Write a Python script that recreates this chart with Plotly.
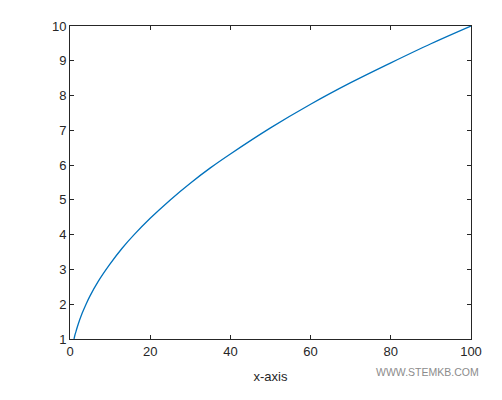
import plotly.graph_objects as go

# values
x_vals = [1, 1.2, 1.5, 2, 3, 4, 5, 7, 10, 13, 16, 20, 25, 30, 35, 40, 50, 60, 70, 80, 90, 100]
y_vals = [1.0, 1.1, 1.22, 1.41, 1.73, 2.0, 2.24, 2.65, 3.16, 3.61, 4.0, 4.47, 5.0, 5.48,
          5.92, 6.32, 7.07, 7.75, 8.37, 8.94, 9.49, 10.0]
x_ticks = [0, 20, 40, 60, 80, 100]
y_ticks = [1, 2, 3, 4, 5, 6, 7, 8, 9, 10]

fig = go.Figure(go.Scatter(
    x=x_vals, y=y_vals, mode="lines", line_shape="spline",
    line=dict(color="#0072BD", width=1.3), showlegend=False,
))

axis_style = dict(
    showgrid=False, zeroline=False, showline=True, linecolor="#262626", linewidth=1,
    mirror="ticks", ticks="inside", ticklen=4, tickcolor="#262626",
    tickfont=dict(size=13, color="#262626"),
)

# page body adds an 8px offset, so margins are shifted accordingly
fig.update_layout(
    width=502, height=400,
    margin=dict(l=62, r=39, t=11, b=69),
    paper_bgcolor="white", plot_bgcolor="white",
    font=dict(family="Liberation Sans, Arial, sans-serif"),
    xaxis=dict(range=[0, 100], tickvals=x_ticks,
               title=dict(text="x-axis", font=dict(size=13, color="#262626"), standoff=14),
               **axis_style),
    yaxis=dict(range=[1, 10], tickvals=y_ticks, **axis_style),
    annotations=[dict(text="WWW.STEMKB.COM", xref="paper", yref="paper",
                      x=1.024, y=-0.106, xanchor="right", yanchor="middle", showarrow=False,
                      font=dict(size=10.5, color="#8c8c8c"))],
)

fig.write_html("out.html")
